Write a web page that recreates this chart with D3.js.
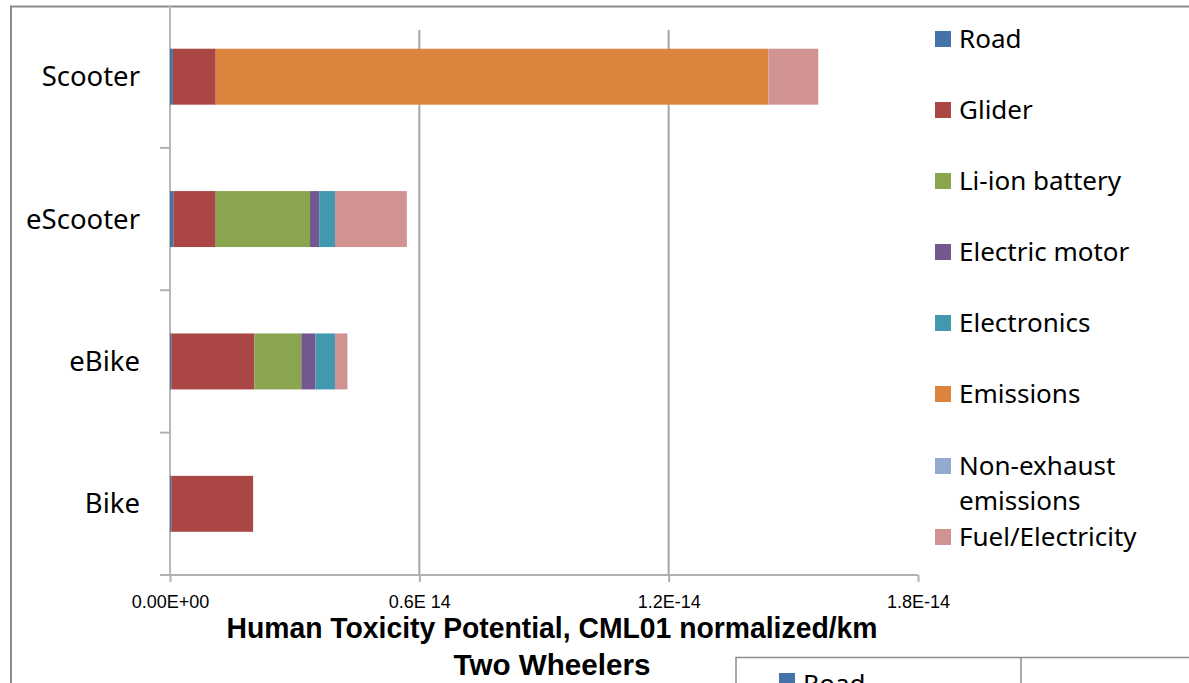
<!DOCTYPE html>
<html lang="en">
<head>
<meta charset="UTF-8">
<script src="https://d3js.org/d3.v7.min.js"></script>
<style>
  body { margin: 0; background: #fff; }
  svg text { font-family: "Noto Sans", sans-serif; }
  .tick text { font-family: "Liberation Sans Narrow", "Liberation Sans", sans-serif; }
</style>
</head>
<body>
<div id="chart_area"></div>
<script>
  // data, values in units of 1e-15
  var categories = ["Scooter", "eScooter", "eBike", "Bike"];
  var seriesNames = ["Road", "Glider", "Li-ion battery", "Electric motor", "Electronics",
                     "Emissions", "Non-exhaust emissions", "Fuel/Electricity"];
  var seriesColors = ["#4572a7", "#aa4643", "#89a54e", "#71588f", "#4198af",
                      "#db843d", "#93a9cf", "#d19392"];
  var road        = [0.07, 0.08, 0.03, 0.03];
  var glider      = [1.03, 1.02, 2.00, 1.97];
  var battery     = [0, 2.27, 1.13, 0];
  var motor       = [0, 0.22, 0.34, 0];
  var electronics = [0, 0.38, 0.47, 0];
  var emissions   = [13.3, 0, 0, 0];
  var nonExhaust  = [0, 0, 0, 0];
  var fuel        = [1.2, 1.73, 0.30, 0];
  var tickValues = [0, 6, 12, 18];
  var tickLabels = ["0.00E+00", "0.6E 14", "1.2E-14", "1.8E-14"];
  var title1 = "Human Toxicity Potential, CML01 normalized/km";
  var title2 = "Two Wheelers";

  var allSeries = [road, glider, battery, motor, electronics, emissions, nonExhaust, fuel];
  var rows = categories.map(function(c, i) {
    var r = { cat: c };
    seriesNames.forEach(function(s, j) { r[s] = allSeries[j][i]; });
    return r;
  });

  var W = 1189, H = 683;
  var svg = d3.select("#chart_area").append("svg")
    .attr("width", W).attr("height", H);

  // outer frame (cropped chart object)
  svg.append("path")
    .attr("d", "M11,683 V6.5 H1189")
    .attr("fill", "none").attr("stroke", "#8c8c8c").attr("stroke-width", 2);

  var x = d3.scaleLinear().domain([0, 18]).range([170, 918]);
  var y = d3.scaleBand().domain(categories).range([5.5, 575])
    .paddingInner(0.607).paddingOuter(0.3035);

  // gridlines
  svg.append("g").selectAll("line")
    .data(tickValues.slice(1, 3))
    .enter().append("line")
      .attr("x1", function(d) { return x(d); })
      .attr("x2", function(d) { return x(d); })
      .attr("y1", 30).attr("y2", 575)
      .attr("stroke", "#a6a6a6").attr("stroke-width", 2);

  // axis lines first so the bars sit on top of the left axis
  svg.append("line").attr("x1", 170).attr("x2", 170).attr("y1", 6).attr("y2", 575)
    .attr("stroke", "#b8b8b8").attr("stroke-width", 2);

  // stacked bars
  var stack = d3.stack().keys(seriesNames)(rows);
  svg.append("g").selectAll("g")
    .data(stack)
    .enter().append("g")
      .attr("fill", function(d, i) { return seriesColors[i]; })
    .selectAll("rect")
    .data(function(d) { return d; })
    .enter().append("rect")
      .attr("x", function(d) { return x(d[0]); })
      .attr("width", function(d) { return x(d[1]) - x(d[0]); })
      .attr("y", function(d) { return y(d.data.cat); })
      .attr("height", y.bandwidth());

  // x axis
  var xAxis = svg.append("g")
    .attr("transform", "translate(0,575)")
    .call(d3.axisBottom(x).tickValues(tickValues)
      .tickFormat(function(d, i) { return tickLabels[i]; })
      .tickSize(7).tickPadding(13));
  xAxis.select(".domain").attr("stroke", "#b0b0b0").attr("stroke-width", 2)
    .attr("d", "M160,0H918");
  xAxis.selectAll(".tick line").attr("stroke", "#b0b0b0").attr("stroke-width", 2);
  xAxis.selectAll(".tick text").attr("fill", "#000").style("font-size", "18px");

  // y axis ticks and labels
  var yEdges = categories.map(function(c) { return y(c) + y.bandwidth() / 2 + y.step() / 2; });
  svg.append("g").selectAll("line")
    .data(yEdges)
    .enter().append("line")
      .attr("x1", 160).attr("x2", 170)
      .attr("y1", function(d) { return d; }).attr("y2", function(d) { return d; })
      .attr("stroke", "#b0b0b0").attr("stroke-width", 2);
  svg.append("g").selectAll("text")
    .data(categories)
    .enter().append("text")
      .attr("x", 140)
      .attr("y", function(d) { return y(d) + y.bandwidth() / 2; })
      .attr("dy", "0.35em")
      .attr("text-anchor", "end")
      .style("font-size", "27.5px")
      .text(function(d) { return d; });

  // titles
  svg.append("text")
    .attr("x", 552).attr("y", 638)
    .attr("text-anchor", "middle")
    .attr("textLength", 651).attr("lengthAdjust", "spacingAndGlyphs")
    .style("font-size", "30px").style("font-weight", "bold")
    .style("font-family", "'Liberation Sans Narrow', 'Liberation Sans', sans-serif")
    .text(title1);
  svg.append("text")
    .attr("x", 552).attr("y", 675)
    .attr("text-anchor", "middle")
    .attr("textLength", 197).attr("lengthAdjust", "spacingAndGlyphs")
    .style("font-size", "30px").style("font-weight", "bold")
    .style("font-family", "'Liberation Sans Narrow', 'Liberation Sans', sans-serif")
    .text(title2);

  // legend
  var legendY = [39, 110, 181, 252, 323, 394, 466, 537];
  var leg = svg.append("g").selectAll("g")
    .data(seriesNames)
    .enter().append("g")
      .attr("transform", function(d, i) { return "translate(935," + legendY[i] + ")"; });
  leg.append("rect")
    .attr("x", 0).attr("y", -8).attr("width", 16).attr("height", 16)
    .attr("fill", function(d, i) { return seriesColors[i]; });
  leg.append("text")
    .attr("x", 24)
    .attr("dy", "0.35em")
    .style("font-size", "26px")
    .each(function(d) {
      var t = d3.select(this);
      if (d === "Non-exhaust emissions") {
        t.append("tspan").attr("x", 24).attr("dy", "0.35em").text("Non-exhaust");
        t.append("tspan").attr("x", 24).attr("dy", "1.35em").text("emissions");
      } else {
        t.text(d);
      }
    });

  // second (cropped) legend box at the bottom
  svg.append("path")
    .attr("d", "M736,683 V657.5 H1189 M1021,657.5 V683")
    .attr("fill", "none").attr("stroke", "#8c8c8c").attr("stroke-width", 1.5);
  svg.append("rect").attr("x", 779).attr("y", 673).attr("width", 16).attr("height", 16)
    .attr("fill", seriesColors[0]);
  svg.append("text").attr("x", 803).attr("y", 693)
    .style("font-size", "26px").text(seriesNames[0]);
</script>
</body>
</html>
